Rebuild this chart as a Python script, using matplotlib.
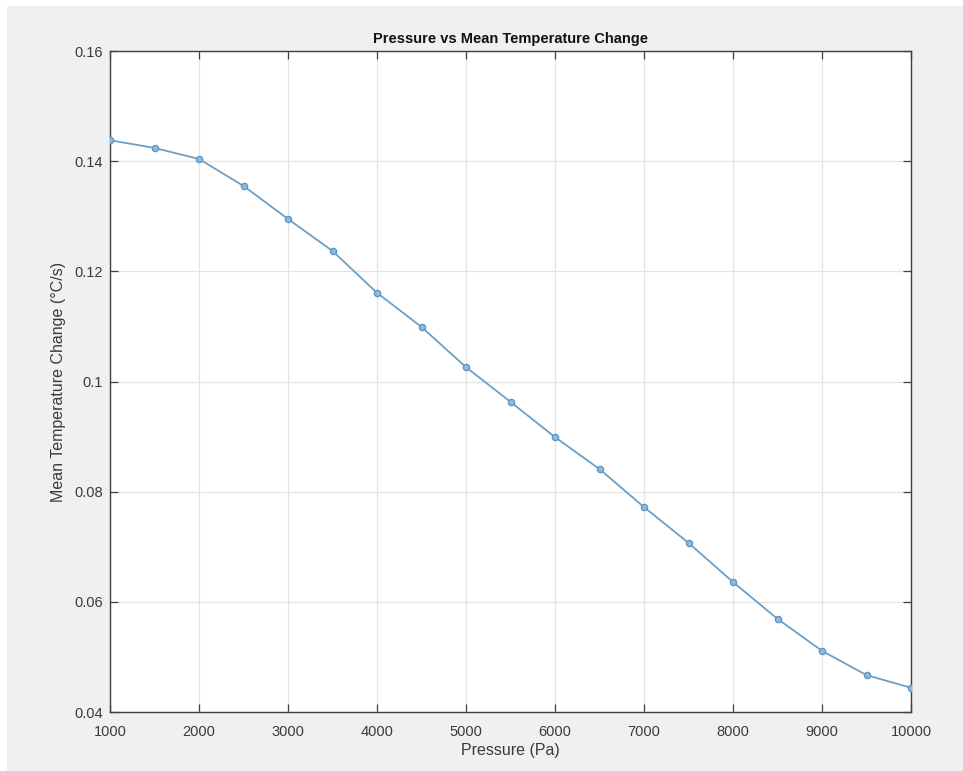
import matplotlib.pyplot as plt
import matplotlib.patches as mpatches
import numpy as np

# pressure (Pa) and mean temperature change (degC/s)
pressure = [1000, 1500, 2000, 2500, 3000, 3500, 4000, 4500, 5000, 5500,
            6000, 6500, 7000, 7500, 8000, 8500, 9000, 9500, 10000]
temp_change = [0.1438, 0.1424, 0.1404, 0.1355, 0.1295, 0.1237, 0.1161, 0.1099,
               0.1026, 0.0963, 0.0899, 0.0841, 0.0772, 0.0707, 0.0636, 0.0569,
               0.0511, 0.0467, 0.0444]

xticks = [1000, 2000, 3000, 4000, 5000, 6000, 7000, 8000, 9000, 10000]
yticks = [0.04, 0.06, 0.08, 0.1, 0.12, 0.14, 0.16]
ytick_labels = ['0.04', '0.06', '0.08', '0.1', '0.12', '0.14', '0.16']

plt.rcParams['font.family'] = ['Liberation Sans', 'DejaVu Sans']

W, H = 963, 771
fig = plt.figure(figsize=(W / 100, H / 100), dpi=100, facecolor='white')

# grey matlab-ish window panel
fig.patches.append(mpatches.Rectangle((7 / W, 0), 1 - 7 / W, 1 - 6 / H,
                                      transform=fig.transFigure,
                                      facecolor='#f0f0f0', edgecolor='none',
                                      zorder=-10))

ax = fig.add_axes([110 / W, 1 - 712 / H, (911 - 110) / W, (712 - 51) / H])
ax.set_facecolor('white')

ax.plot(pressure, temp_change, '-o', color='#6b9fc6', lw=1.3,
        markersize=4.5, markerfacecolor='#8dbbe0', markeredgecolor='#5f93bd',
        markeredgewidth=0.9, zorder=3)

ax.set_xlim(1000, 10000)
ax.set_ylim(0.04, 0.16)
ax.set_xticks(xticks)
ax.set_xticklabels([str(t) for t in xticks])
ax.set_yticks(yticks)
ax.set_yticklabels(ytick_labels)

ax.grid(True, color='#e4e4e4', lw=0.9)
ax.set_axisbelow(True)

for s in ax.spines.values():
    s.set_color('#404040')
    s.set_linewidth(1.0)

ax.tick_params(axis='x', direction='in', top=True, length=6, width=0.9,
               color='#404040', labelsize=10.5, labelcolor='#3a3a3a', pad=9)
ax.tick_params(axis='y', direction='in', right=True, length=6, width=0.9,
               color='#404040', labelsize=10.5, labelcolor='#3a3a3a', pad=5)

ax.set_title('Pressure vs Mean Temperature Change', fontsize=10.5,
             fontweight='bold', color='#111111', pad=6)
ax.set_xlabel('Pressure (Pa)', fontsize=11.5, color='#3a3a3a', labelpad=3)
ax.set_ylabel('Mean Temperature Change (°C/s)', fontsize=11.5,
              color='#3a3a3a', labelpad=6)

fig.savefig('out.png', dpi=100, facecolor=fig.get_facecolor())
